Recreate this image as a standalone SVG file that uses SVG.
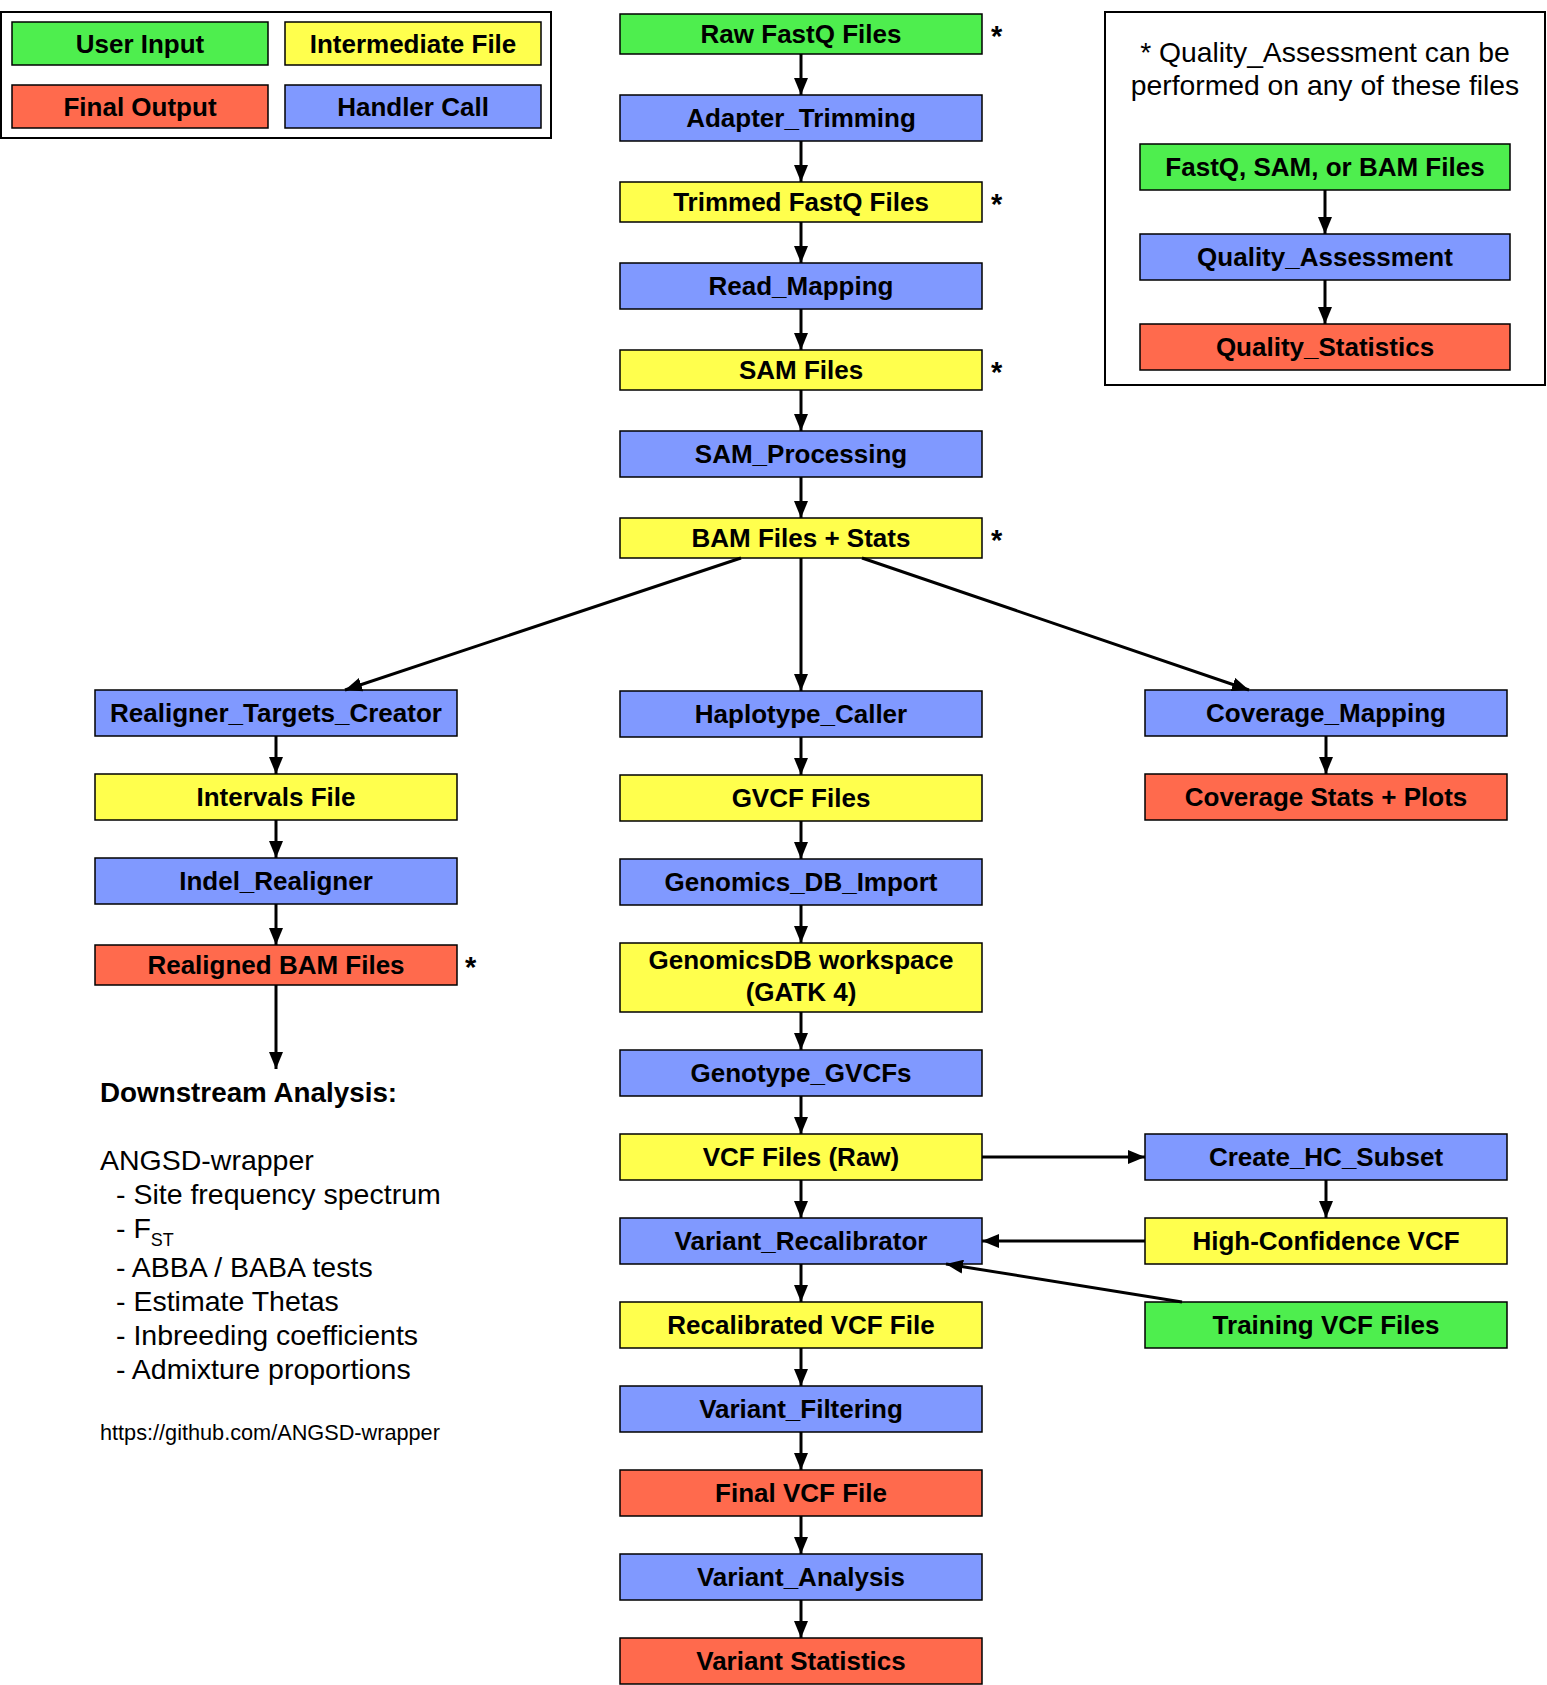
<svg xmlns="http://www.w3.org/2000/svg" width="1547" height="1685" viewBox="0 0 1547 1685">
<defs>
<style>
.n{stroke:#000;stroke-width:1.5}
.g{fill:#4EEE4E}.y{fill:#FFFF4D}.r{fill:#FF6A4D}.b{fill:#8099FF}
.t{font-family:"Liberation Sans",Arial,Helvetica,sans-serif;font-weight:bold;font-size:26px;text-anchor:middle;fill:#000}
.s{font-family:"Liberation Sans",Arial,Helvetica,sans-serif;font-weight:bold;font-size:29px;fill:#000}
.p{font-family:"Liberation Sans",Arial,Helvetica,sans-serif;fill:#000}
.frame{fill:#fff;stroke:#000;stroke-width:2}
.c{stroke:#000;stroke-width:3;fill:none;marker-end:url(#ah)}
</style>
<marker id="ah" viewBox="0 0 17 14" refX="17" refY="7" markerWidth="17" markerHeight="14" markerUnits="userSpaceOnUse" orient="auto">
<path d="M0,0 L17,7 L0,14 z" fill="#000"/>
</marker>
</defs>
<rect width="1547" height="1685" fill="#fff"/>

<g id="legend">
<rect class="frame" x="1" y="12" width="550" height="126"/>
<rect class="n g" x="12" y="22" width="256" height="43"/><text class="t" x="140" y="52.8">User Input</text>
<rect class="n y" x="285" y="22" width="256" height="43"/><text class="t" x="413" y="52.8">Intermediate File</text>
<rect class="n r" x="12" y="85" width="256" height="43"/><text class="t" x="140" y="115.8">Final Output</text>
<rect class="n b" x="285" y="85" width="256" height="43"/><text class="t" x="413" y="115.8">Handler Call</text>
</g>

<g id="qa-note">
<rect class="frame" x="1105" y="12" width="440" height="373"/>
<text class="p" font-size="28.3" text-anchor="middle" x="1325" y="62">* Quality_Assessment can be</text>
<text class="p" font-size="28.3" text-anchor="middle" x="1325" y="95">performed on any of these files</text>
</g>
<g id="qa-input"><rect class="n g" x="1140" y="144" width="370" height="46"/><text class="t" x="1325" y="176.3">FastQ, SAM, or BAM Files</text></g>
<g id="qa-handler"><rect class="n b" x="1140" y="234" width="370" height="46"/><text class="t" x="1325" y="266.3">Quality_Assessment</text></g>
<g id="qa-stats"><rect class="n r" x="1140" y="324" width="370" height="46"/><text class="t" x="1325" y="356.3">Quality_Statistics</text></g>

<g id="raw-fastq"><rect class="n g" x="620" y="14" width="362" height="40"/><text class="t" x="801" y="43.3">Raw FastQ Files</text><text class="s" x="991" y="46">*</text></g>
<g id="adapter-trimming"><rect class="n b" x="620" y="95" width="362" height="46"/><text class="t" x="801" y="127.3">Adapter_Trimming</text></g>
<g id="trimmed-fastq"><rect class="n y" x="620" y="182" width="362" height="40"/><text class="t" x="801" y="211.3">Trimmed FastQ Files</text><text class="s" x="991" y="214">*</text></g>
<g id="read-mapping"><rect class="n b" x="620" y="263" width="362" height="46"/><text class="t" x="801" y="295.3">Read_Mapping</text></g>
<g id="sam-files"><rect class="n y" x="620" y="350" width="362" height="40"/><text class="t" x="801" y="379.3">SAM Files</text><text class="s" x="991" y="382">*</text></g>
<g id="sam-processing"><rect class="n b" x="620" y="431" width="362" height="46"/><text class="t" x="801" y="463.3">SAM_Processing</text></g>
<g id="bam-files"><rect class="n y" x="620" y="518" width="362" height="40"/><text class="t" x="801" y="547.3">BAM Files + Stats</text><text class="s" x="991" y="550">*</text></g>

<g id="realigner-targets"><rect class="n b" x="95" y="690" width="362" height="46"/><text class="t" x="276" y="722.3">Realigner_Targets_Creator</text></g>
<g id="intervals-file"><rect class="n y" x="95" y="774" width="362" height="46"/><text class="t" x="276" y="806.3">Intervals File</text></g>
<g id="indel-realigner"><rect class="n b" x="95" y="858" width="362" height="46"/><text class="t" x="276" y="890.3">Indel_Realigner</text></g>
<g id="realigned-bam"><rect class="n r" x="95" y="945" width="362" height="40"/><text class="t" x="276" y="974.3">Realigned BAM Files</text><text class="s" x="465" y="977">*</text></g>

<g id="downstream">
<text class="p" font-size="27.8" font-weight="bold" x="100" y="1102">Downstream Analysis:</text>
<text class="p" font-size="28.5" x="100" y="1170">ANGSD-wrapper</text>
<text class="p" font-size="28.5" x="116" y="1204">- Site frequency spectrum</text>
<text class="p" font-size="28.5" x="116" y="1238">- F<tspan font-size="18" dy="8">ST</tspan></text>
<text class="p" font-size="28.5" x="116" y="1277">- ABBA / BABA tests</text>
<text class="p" font-size="28.5" x="116" y="1311">- Estimate Thetas</text>
<text class="p" font-size="28.5" x="116" y="1345">- Inbreeding coefficients</text>
<text class="p" font-size="28.5" x="116" y="1379">- Admixture proportions</text>
<text class="p" font-size="21.7" x="100" y="1440">https://github.com/ANGSD-wrapper</text>
</g>

<g id="haplotype-caller"><rect class="n b" x="620" y="691" width="362" height="46"/><text class="t" x="801" y="723.3">Haplotype_Caller</text></g>
<g id="gvcf-files"><rect class="n y" x="620" y="775" width="362" height="46"/><text class="t" x="801" y="807.3">GVCF Files</text></g>
<g id="genomics-db-import"><rect class="n b" x="620" y="859" width="362" height="46"/><text class="t" x="801" y="891.3">Genomics_DB_Import</text></g>
<g id="genomicsdb-workspace"><rect class="n y" x="620" y="943" width="362" height="69"/><text class="t" x="801" y="968.5">GenomicsDB workspace</text><text class="t" x="801" y="1001">(GATK 4)</text></g>
<g id="genotype-gvcfs"><rect class="n b" x="620" y="1050" width="362" height="46"/><text class="t" x="801" y="1082.3">Genotype_GVCFs</text></g>
<g id="vcf-raw"><rect class="n y" x="620" y="1134" width="362" height="46"/><text class="t" x="801" y="1166.3">VCF Files (Raw)</text></g>
<g id="variant-recalibrator"><rect class="n b" x="620" y="1218" width="362" height="46"/><text class="t" x="801" y="1250.3">Variant_Recalibrator</text></g>
<g id="recalibrated-vcf"><rect class="n y" x="620" y="1302" width="362" height="46"/><text class="t" x="801" y="1334.3">Recalibrated VCF File</text></g>
<g id="variant-filtering"><rect class="n b" x="620" y="1386" width="362" height="46"/><text class="t" x="801" y="1418.3">Variant_Filtering</text></g>
<g id="final-vcf"><rect class="n r" x="620" y="1470" width="362" height="46"/><text class="t" x="801" y="1502.3">Final VCF File</text></g>
<g id="variant-analysis"><rect class="n b" x="620" y="1554" width="362" height="46"/><text class="t" x="801" y="1586.3">Variant_Analysis</text></g>
<g id="variant-statistics"><rect class="n r" x="620" y="1638" width="362" height="46"/><text class="t" x="801" y="1670.3">Variant Statistics</text></g>

<g id="coverage-mapping"><rect class="n b" x="1145" y="690" width="362" height="46"/><text class="t" x="1326" y="722.3">Coverage_Mapping</text></g>
<g id="coverage-stats"><rect class="n r" x="1145" y="774" width="362" height="46"/><text class="t" x="1326" y="806.3">Coverage Stats + Plots</text></g>
<g id="create-hc-subset"><rect class="n b" x="1145" y="1134" width="362" height="46"/><text class="t" x="1326" y="1166.3">Create_HC_Subset</text></g>
<g id="high-confidence-vcf"><rect class="n y" x="1145" y="1218" width="362" height="46"/><text class="t" x="1326" y="1250.3">High-Confidence VCF</text></g>
<g id="training-vcf"><rect class="n g" x="1145" y="1302" width="362" height="46"/><text class="t" x="1326" y="1334.3">Training VCF Files</text></g>

<g id="connectors">
<line class="c" x1="1325" y1="190" x2="1325" y2="234"/>
<line class="c" x1="1325" y1="280" x2="1325" y2="324"/>
<line class="c" x1="801" y1="54" x2="801" y2="95"/>
<line class="c" x1="801" y1="141" x2="801" y2="182"/>
<line class="c" x1="801" y1="222" x2="801" y2="263"/>
<line class="c" x1="801" y1="309" x2="801" y2="350"/>
<line class="c" x1="801" y1="390" x2="801" y2="431"/>
<line class="c" x1="801" y1="477" x2="801" y2="518"/>
<line class="c" x1="801" y1="558" x2="801" y2="691"/>
<line class="c" x1="741" y1="558" x2="345" y2="690"/>
<line class="c" x1="862" y1="558" x2="1249" y2="690"/>
<line class="c" x1="276" y1="736" x2="276" y2="774"/>
<line class="c" x1="276" y1="820" x2="276" y2="858"/>
<line class="c" x1="276" y1="904" x2="276" y2="945"/>
<line class="c" x1="276" y1="985" x2="276" y2="1069"/>
<line class="c" x1="1326" y1="736" x2="1326" y2="774"/>
<line class="c" x1="801" y1="737" x2="801" y2="775"/>
<line class="c" x1="801" y1="821" x2="801" y2="859"/>
<line class="c" x1="801" y1="905" x2="801" y2="943"/>
<line class="c" x1="801" y1="1012" x2="801" y2="1050"/>
<line class="c" x1="801" y1="1096" x2="801" y2="1134"/>
<line class="c" x1="801" y1="1180" x2="801" y2="1218"/>
<line class="c" x1="801" y1="1264" x2="801" y2="1302"/>
<line class="c" x1="801" y1="1348" x2="801" y2="1386"/>
<line class="c" x1="801" y1="1432" x2="801" y2="1470"/>
<line class="c" x1="801" y1="1516" x2="801" y2="1554"/>
<line class="c" x1="801" y1="1600" x2="801" y2="1638"/>
<line class="c" x1="982" y1="1157" x2="1145" y2="1157"/>
<line class="c" x1="1326" y1="1180" x2="1326" y2="1218"/>
<line class="c" x1="1145" y1="1241" x2="982" y2="1241"/>
<line class="c" x1="1182" y1="1302" x2="946" y2="1264"/>
</g>
</svg>
